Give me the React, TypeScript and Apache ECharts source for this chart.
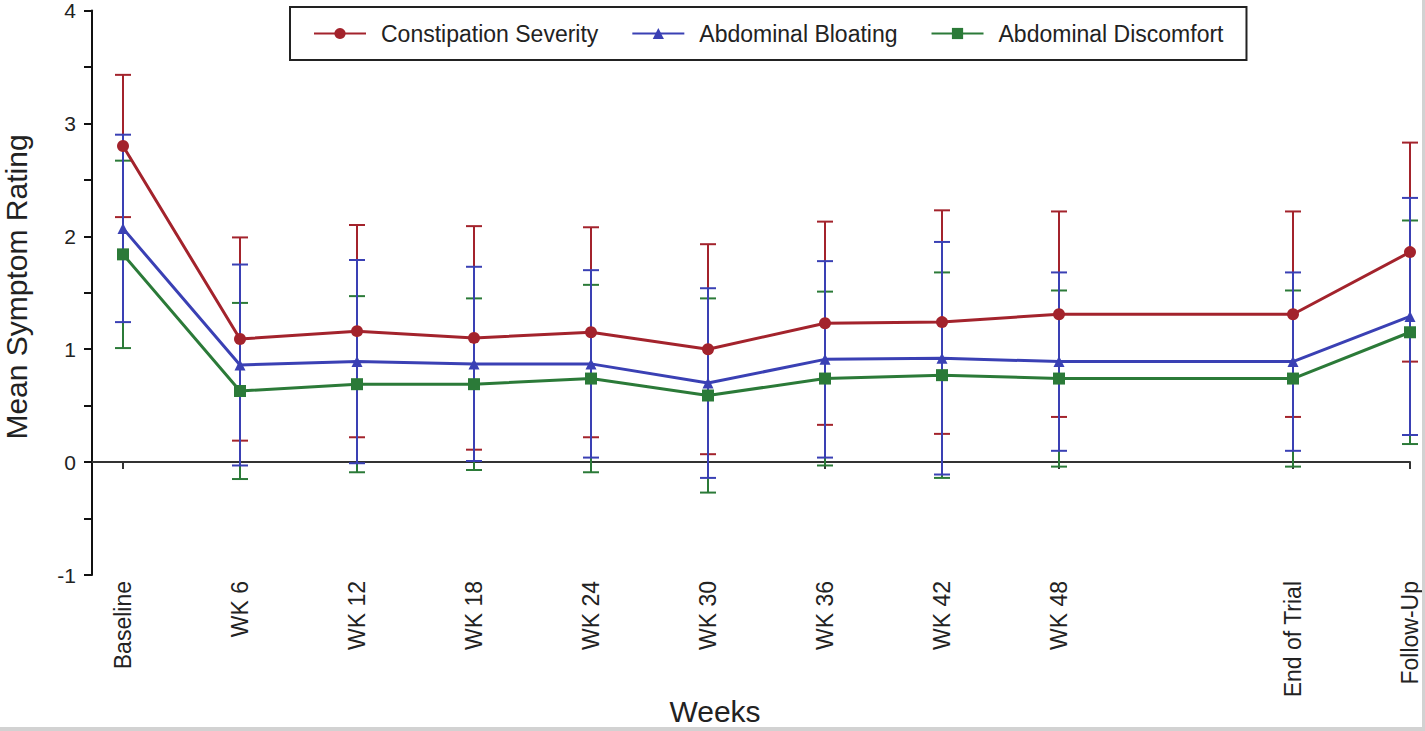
import React, { useEffect, useRef } from "react";
import * as echarts from "echarts";

const categories = ["Baseline", "WK 6", "WK 12", "WK 18", "WK 24", "WK 30", "WK 36", "WK 42", "WK 48", "End of Trial", "Follow-Up"];
const positions = [0, 1, 2, 3, 4, 5, 6, 7, 8, 10, 11];

const constipation = [2.8, 1.09, 1.16, 1.1, 1.15, 1.0, 1.23, 1.24, 1.31, 1.31, 1.86];
const constipationErr = [0.63, 0.9, 0.94, 0.99, 0.93, 0.93, 0.9, 0.99, 0.91, 0.91, 0.97];
const bloating = [2.07, 0.86, 0.89, 0.87, 0.87, 0.7, 0.91, 0.92, 0.89, 0.89, 1.29];
const bloatingErr = [0.83, 0.89, 0.9, 0.86, 0.83, 0.84, 0.87, 1.03, 0.79, 0.79, 1.05];
const discomfort = [1.84, 0.63, 0.69, 0.69, 0.74, 0.59, 0.74, 0.77, 0.74, 0.74, 1.15];
const discomfortErr = [0.83, 0.78, 0.78, 0.76, 0.83, 0.86, 0.77, 0.91, 0.78, 0.78, 0.99];

const yTicks = [-1, 0, 1, 2, 3, 4];

const RED = "#a3232c";
const BLUE = "#3a40b4";
const GREEN = "#2b7a38";
const FONT = "Liberation Sans";

const X_MIN = -0.265;
const X_MAX = 11;

function errRender(color: string) {
  return (_params: any, api: any) => {
    const x = api.value(0);
    const lo = api.value(1);
    const hi = api.value(2);
    const a = api.coord([x, hi]);
    const b = api.coord([x, lo]);
    const w = 8;
    const style = { stroke: color, lineWidth: 2 };
    return {
      type: "group",
      children: [
        { type: "line", shape: { x1: a[0], y1: a[1], x2: b[0], y2: b[1] }, style },
        { type: "line", shape: { x1: a[0] - w, y1: a[1], x2: a[0] + w, y2: a[1] }, style },
        { type: "line", shape: { x1: b[0] - w, y1: b[1], x2: b[0] + w, y2: b[1] }, style },
      ],
    };
  };
}

function errData(mean: number[], err: number[]) {
  return positions.map((p, i) => [p, mean[i] - err[i], mean[i] + err[i]]);
}
function lineData(mean: number[]) {
  return positions.map((p, i) => [p, mean[i]]);
}

export default function App() {
  const ref = useRef<HTMLDivElement>(null);
  useEffect(() => {
    if (!ref.current) return;
    const chart = echarts.init(ref.current, undefined, { renderer: "svg" });
    const labelFor = (v: number) => {
      const idx = positions.indexOf(Math.round(v));
      return idx >= 0 ? categories[idx] : "";
    };
    chart.setOption({
      animation: false,
      backgroundColor: "#ffffff",
      textStyle: { fontFamily: FONT },
      grid: { left: 92, right: 15, top: 7, bottom: 156, containLabel: false },
      legend: {
        data: ["Constipation Severity", "Abdominal Bloating", "Abdominal Discomfort"],
        left: 290,
        top: 7,
        padding: [15, 23, 15, 23],
        itemGap: 33,
        itemWidth: 52,
        itemHeight: 14,
        borderColor: "#222222",
        borderWidth: 2,
        textStyle: { fontFamily: FONT, fontSize: 23, color: "#222222", padding: [0, 0, 0, 10] },
      },
      xAxis: [
        {
          type: "value",
          min: X_MIN,
          max: X_MAX,
          position: "bottom",
          axisLine: { show: false, onZero: false },
          axisTick: { show: false },
          splitLine: { show: false },
          axisLabel: {
            customValues: positions,
            rotate: 90,
            margin: 6,
            fontFamily: FONT,
            fontSize: 23,
            color: "#222222",
            formatter: (v: number) => labelFor(v),
          },
        },
        {
          type: "value",
          min: X_MIN,
          max: X_MAX,
          position: "bottom",
          axisLine: { show: true, onZero: true, lineStyle: { color: "#333333", width: 2 } },
          axisTick: { show: true, customValues: positions, length: 7, lineStyle: { color: "#333333", width: 2 } },
          axisLabel: { show: false },
          splitLine: { show: false },
        },
      ],
      yAxis: {
        type: "value",
        min: -1,
        max: 4,
        interval: 0.5,
        axisLine: { show: true, onZero: false, lineStyle: { color: "#111111", width: 2 } },
        axisTick: { show: true, length: 8, lineStyle: { color: "#111111", width: 2 } },
        splitLine: { show: false },
        axisLabel: {
          margin: 16,
          fontFamily: FONT,
          fontSize: 21,
          color: "#222222",
          formatter: (v: number) => (yTicks.indexOf(v) >= 0 ? String(v) : ""),
        },
      },
      graphic: [
        {
          type: "text",
          x: 16,
          y: 287,
          rotation: Math.PI / 2,
          style: {
            text: "Mean Symptom Rating",
            fontFamily: FONT,
            fontSize: 30,
            fill: "#222222",
            align: "center",
            verticalAlign: "middle",
          },
        },
        {
          type: "text",
          x: 715,
          y: 711,
          style: {
            text: "Weeks",
            fontFamily: FONT,
            fontSize: 30,
            fill: "#222222",
            align: "center",
            verticalAlign: "middle",
          },
        },
        { type: "rect", shape: { x: 0, y: 727, width: 1425, height: 4 }, style: { fill: "#d2d2d2" }, z: 100 },
        { type: "rect", shape: { x: 1422, y: 0, width: 3, height: 731 }, style: { fill: "#d2d2d2" }, z: 100 },
      ],
      series: [
        {
          name: "CS error",
          type: "custom",
          xAxisIndex: 0,
          yAxisIndex: 0,
          z: 2,
          renderItem: errRender(RED),
          encode: { x: 0, y: [1, 2] },
          data: errData(constipation, constipationErr),
        },
        {
          name: "AD error",
          type: "custom",
          xAxisIndex: 0,
          yAxisIndex: 0,
          z: 3,
          renderItem: errRender(GREEN),
          encode: { x: 0, y: [1, 2] },
          data: errData(discomfort, discomfortErr),
        },
        {
          name: "AB error",
          type: "custom",
          xAxisIndex: 0,
          yAxisIndex: 0,
          z: 4,
          renderItem: errRender(BLUE),
          encode: { x: 0, y: [1, 2] },
          data: errData(bloating, bloatingErr),
        },
        {
          name: "Constipation Severity",
          type: "line",
          z: 10,
          symbol: "circle",
          symbolSize: 12,
          color: RED,
          lineStyle: { color: RED, width: 3 },
          itemStyle: { color: RED },
          data: lineData(constipation),
        },
        {
          name: "Abdominal Bloating",
          type: "line",
          z: 11,
          symbol: "triangle",
          symbolSize: 11,
          color: BLUE,
          lineStyle: { color: BLUE, width: 3 },
          itemStyle: { color: BLUE },
          data: lineData(bloating),
        },
        {
          name: "Abdominal Discomfort",
          type: "line",
          z: 12,
          symbol: "rect",
          symbolSize: 12,
          color: GREEN,
          lineStyle: { color: GREEN, width: 3 },
          itemStyle: { color: GREEN },
          data: lineData(discomfort),
        },
      ],
    });
    return () => chart.dispose();
  }, []);
  return <div ref={ref} style={{ position: "absolute", left: 0, top: 0, width: 1425, height: 731 }} />;
}
